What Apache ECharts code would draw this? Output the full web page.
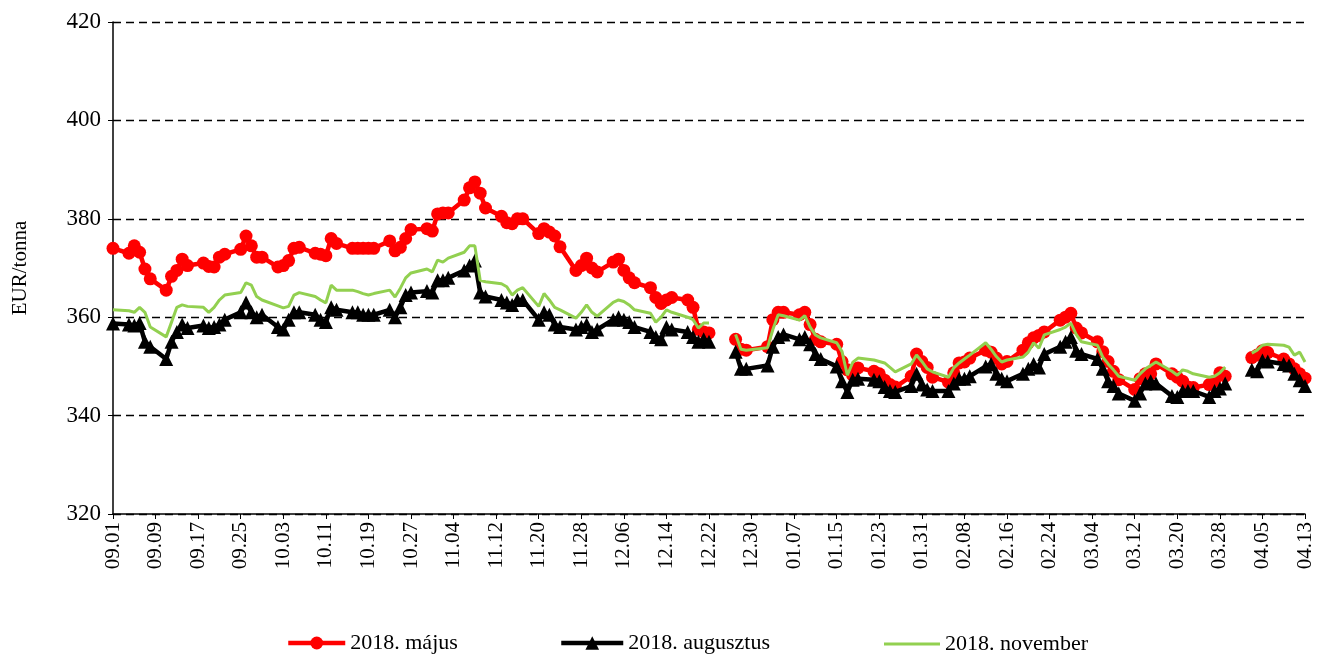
<!DOCTYPE html>
<html><head><meta charset="utf-8">
<script src="https://cdn.jsdelivr.net/npm/echarts@6/dist/echarts.min.js"></script>
<style>html,body{margin:0;padding:0;background:#fff}#c{width:1320px;height:656px}</style>
</head><body><div id="c"></div>
<script>
// Trading days (MM.DD), Sept 2017 - Apr 2018; holidays kept as gaps (null values)
const dates = [
 '09.01','09.04','09.05','09.06','09.07','09.08','09.11','09.12','09.13','09.14','09.15','09.18','09.19','09.20','09.21','09.22','09.25','09.26','09.27','09.28','09.29',
 '10.02','10.03','10.04','10.05','10.06','10.09','10.10','10.11','10.12','10.13','10.16','10.17','10.18','10.19','10.20','10.23','10.24','10.25','10.26','10.27','10.30','10.31',
 '11.01','11.02','11.03','11.06','11.07','11.08','11.09','11.10','11.13','11.14','11.15','11.16','11.17','11.20','11.21','11.22','11.23','11.24','11.27','11.28','11.29','11.30',
 '12.01','12.04','12.05','12.06','12.07','12.08','12.11','12.12','12.13','12.14','12.15','12.18','12.19','12.20','12.21','12.22','12.25','12.26','12.27','12.28','12.29',
 '01.02','01.03','01.04','01.05','01.08','01.09','01.10','01.11','01.12','01.15','01.16','01.17','01.18','01.19','01.22','01.23','01.24','01.25','01.26','01.29','01.30','01.31',
 '02.01','02.02','02.05','02.06','02.07','02.08','02.09','02.12','02.13','02.14','02.15','02.16','02.19','02.20','02.21','02.22','02.23','02.26','02.27','02.28',
 '03.01','03.02','03.05','03.06','03.07','03.08','03.09','03.12','03.13','03.14','03.15','03.16','03.19','03.20','03.21','03.22','03.23','03.26','03.27','03.28','03.29','03.30',
 '04.02','04.03','04.04','04.05','04.06','04.09','04.10','04.11','04.12','04.13'
];
const seriesNames = ['2018. május','2018. augusztus','2018. november'];
const maj = [
 374,373,374.5,373.2,369.8,367.8,365.5,368.3,369.5,371.8,370.5,371,370.3,370.2,372.2,372.8,373.8,376.5,374.5,372.2,372.2,
 370.2,370.5,371.5,374,374.2,373,372.8,372.5,376,375,374,374,374,374,374,375.5,373.5,374.2,376,377.8,378,377.5,
 381,381.2,381.2,383.8,386.3,387.5,385.2,382.2,380.5,379.2,379,380,380,377,378,377.3,376.5,374.3,369.5,370.5,372,370,
 369.2,371.2,371.8,369.5,368,367,366,364,362.8,363.5,364,363.5,362,357.5,357,356.8,null,null,355.5,353.5,353.3,
 354,359.5,361,361,360.5,361,358.5,355.5,355,354.5,351,349.3,348.2,349.7,349,348.5,347.2,346.3,345.8,348,352.5,351,
 349.8,347.8,346.8,348.7,350.7,350.9,351.7,353.3,352.9,351.7,350.5,351,353.3,354.8,355.8,356.3,357,359.4,360,360.8,
 357.8,356.8,355,353,351,349,347.3,345.3,347.5,348.5,348.5,350.5,348.5,347.8,347,345.8,345.7,346.3,347,348.7,348,null,
 null,351.8,352.3,353.2,352.8,351.5,350.5,349.5,348.5,347.6
];
const aug = [
 358.7,358.5,358.3,358.8,355,354,351.5,355,357,358.5,357.8,358.3,357.8,358,358.5,359.5,361,363,361,360,360.5,
 358,357.5,359.5,361,361,360.5,359.5,359,362,361.5,361,361,360.5,360.5,360.5,361.5,360,362,364.5,365,365.3,365,
 367.5,367.5,368,369.5,370.5,371.5,365,364.2,363.5,363,362.5,363.5,363.5,359.5,361,360.5,358.5,358,357.5,358,358.5,357,
 357.5,359.5,360,359.5,359,358,357,356,355.5,358,357.5,357,356,355,355.5,355,null,null,353,349.5,349.5,
 350.2,354,356,356.5,355.5,356,354.5,352.5,351.5,350,347,344.8,347.3,347.5,347.3,347,345.8,345,344.8,346,348.5,346.3,
 345.3,345,345,346.5,347.5,347.5,348,350,350.5,348.5,347.5,347,348.5,349.5,350.5,349.8,352.5,354,355,356,
 353.2,352.5,351.5,349.5,347,346,344.5,343,344.5,346.5,347,346.5,344,343.8,345,345,345,343.8,345,345.5,346.5,null,
 null,349.3,349,351.2,351,350.5,350.2,348.5,347.2,346
];
const nov = [
 361.5,361.3,361,362,361,358,356,359,362,362.5,362.2,362,361,362,363.5,364.5,365,367,366.5,364.2,363.5,
 362.3,361.9,362.2,364.5,365,364.2,363.5,362.9,366.5,365.5,365.5,365.2,364.8,364.5,364.8,365.5,364.1,365.9,368,369,369.8,369.2,
 371.6,371.2,372,373.2,374.5,374.5,367.5,367.2,366.8,366.2,364.5,365.5,366,362.2,364.8,363.5,362,361.5,359.8,361,362.5,361,
 360.2,363,363.5,363.2,362.5,361.5,360.8,359,360,361.5,361,360,359.5,357.8,358.8,358.8,null,null,356.5,353.5,353.3,
 353.8,357.5,360.5,360.3,359.4,360.3,358,356.4,355.8,354.8,353,348.2,350.8,351.7,351.3,351,350.7,349.8,348.9,350.5,352.3,351,
 349.5,348.9,347.8,349.7,350.7,351.5,352.3,354.8,353.5,352,350.9,351.3,351.9,352.9,354.8,353.7,356.4,357.5,358,358.8,
 356.5,355,354.3,351.9,350.5,349.3,348,347.2,348.5,349.5,350.2,350.9,349,348.2,349.3,349,348.5,347.8,348,348.7,349.9,null,
 null,352.7,353.3,354.3,354.5,354.3,353.9,352.3,352.9,350.9
];
const yMin = 320, yMax = 420, yStep = 20;
const xStepDays = 8;

const FONT = '"Liberation Serif","Times New Roman",serif';
const DAY = 86400000, START = Date.UTC(2017, 8, 1), END = Date.UTC(2018, 3, 13);
function dayIndex(s) {
  const [m, d] = s.split('.').map(Number);
  const y = m >= 9 ? 2017 : 2018;
  return Math.round((Date.UTC(y, m - 1, d) - START) / DAY);
}
function dayLabel(i) {
  const t = new Date(START + i * DAY);
  return String(t.getUTCMonth() + 1).padStart(2, '0') + '.' + String(t.getUTCDate()).padStart(2, '0');
}
function pairs(vals) { return dates.map((d, i) => [dayIndex(d), vals[i] == null ? '-' : vals[i]]); }

const chart = echarts.init(document.getElementById('c'), null, {renderer: 'canvas'});
const legendText = {fontFamily: FONT, fontSize: 22, color: '#000'};
chart.setOption({
  animation: false,
  backgroundColor: '#fff',
  grid: {left: 113, right: 15, top: 22, bottom: 142},
  legend: [
    {data: [seriesNames[0]], left: 281, top: 627, itemWidth: 57, itemHeight: 16, itemGap: 0,
     lineStyle: {width: 4.5}, textStyle: legendText},
    {data: [seriesNames[1]], left: 554, top: 627, itemWidth: 62, itemHeight: 17, itemGap: 0,
     lineStyle: {width: 4.5}, textStyle: legendText},
    {data: [{name: seriesNames[2], icon: 'rect'}], left: 879, top: 628, itemWidth: 56, itemHeight: 3, itemGap: 0, textStyle: legendText}
  ],
  xAxis: {
    type: 'value', min: 0, max: Math.round((END - START) / DAY), interval: xStepDays,
    axisLine: {lineStyle: {color: '#000', width: 1.5}},
    axisTick: {show: true, length: 5, lineStyle: {color: '#000'}},
    splitLine: {show: false},
    axisLabel: {rotate: 90, margin: 8, fontFamily: FONT, fontSize: 21, color: '#000', formatter: v => dayLabel(v)}
  },
  yAxis: {
    type: 'value', min: yMin, max: yMax, interval: yStep,
    name: 'EUR/tonna', nameLocation: 'middle', nameGap: 82, nameRotate: 90,
    nameTextStyle: {fontFamily: FONT, fontSize: 21, color: '#000'},
    axisLine: {show: true, lineStyle: {color: '#000', width: 1.5}},
    axisTick: {show: true, length: 5, lineStyle: {color: '#000'}},
    splitLine: {show: true, lineStyle: {color: '#000', type: [8, 5], width: 1.3}},
    axisLabel: {margin: 12, fontFamily: FONT, fontSize: 23, color: '#000'}
  },
  series: [
    {name: seriesNames[0], type: 'line', data: pairs(maj), z: 2,
     symbol: 'circle', symbolSize: 13, showAllSymbol: true,
     lineStyle: {color: '#ff0000', width: 4.5}, itemStyle: {color: '#ff0000', borderWidth: 0}},
    {name: seriesNames[1], type: 'line', data: pairs(aug), z: 3,
     symbol: 'triangle', symbolSize: 14, showAllSymbol: true,
     lineStyle: {color: '#000', width: 4.5}, itemStyle: {color: '#000', borderWidth: 0}},
    {name: seriesNames[2], type: 'line', data: pairs(nov), z: 4,
     symbol: 'none', lineStyle: {color: '#92d050', width: 3}, itemStyle: {color: '#92d050'}}
  ]
});
</script></body></html>
